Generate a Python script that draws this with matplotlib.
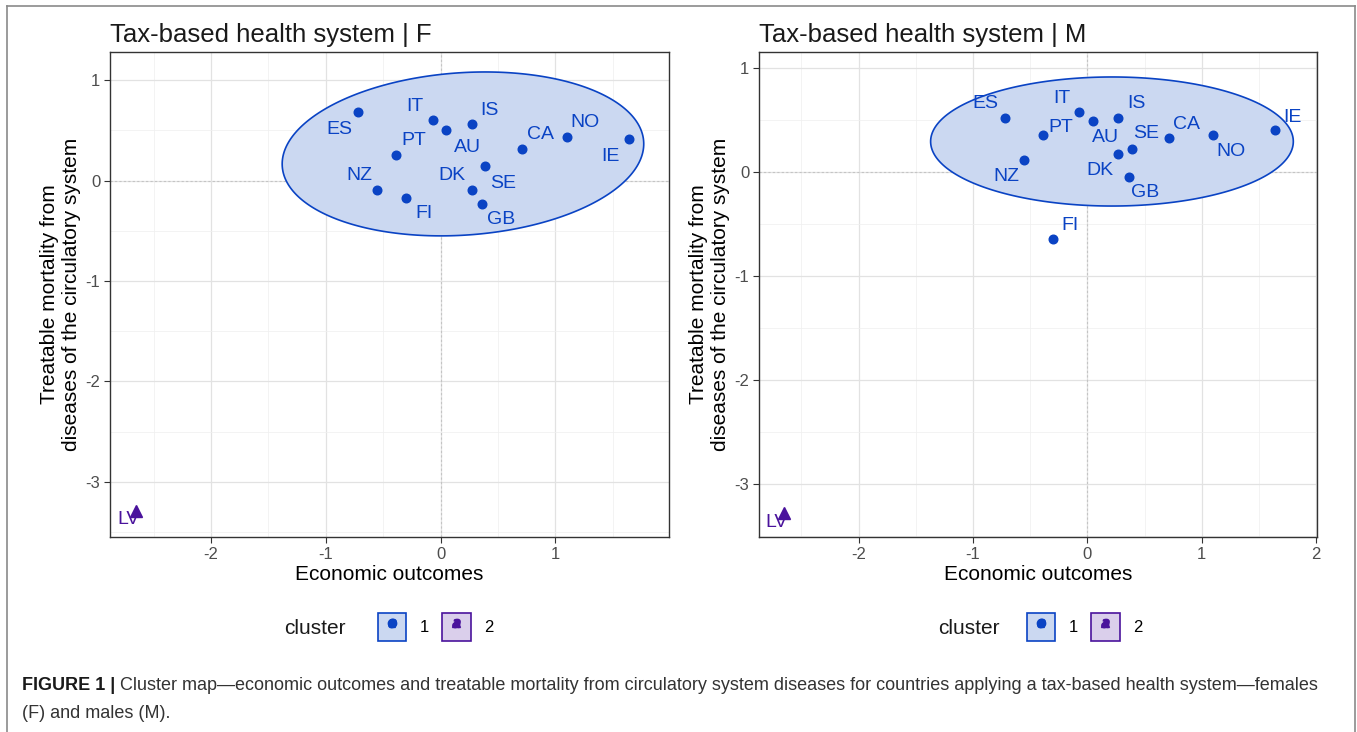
import numpy as np
import matplotlib.pyplot as plt
from matplotlib.patches import Patch
from matplotlib.lines import Line2D
from matplotlib.legend_handler import HandlerTuple
from matplotlib.ticker import MultipleLocator

plt.rcParams['font.family'] = ['Liberation Sans', 'DejaVu Sans']
plt.rcParams['axes.unicode_minus'] = False

countries = ['ES', 'IT', 'AU', 'IS', 'PT', 'CA', 'NO', 'IE', 'SE', 'NZ', 'FI', 'DK', 'GB', 'LV']
cluster = [1, 1, 1, 1, 1, 1, 1, 1, 1, 1, 1, 1, 1, 2]
econ = [-0.72, -0.07, 0.05, 0.27, -0.39, 0.71, 1.10, 1.64, 0.39, -0.55, -0.30, 0.27, 0.36, -2.65]
mort_f = [0.68, 0.60, 0.50, 0.56, 0.25, 0.31, 0.43, 0.41, 0.14, -0.09, -0.17, -0.09, -0.23, -3.29]
mort_m = [0.52, 0.57, 0.49, 0.52, 0.35, 0.32, 0.35, 0.40, 0.22, 0.115, -0.65, 0.17, -0.05, -3.28]

# cluster 1 confidence ellipses: centre, half axes and a small tilt term
ellipse_f = dict(cx=0.195, cy=0.265, a=1.575, b=0.81, c=0.10)
ellipse_m = dict(cx=0.215, cy=0.29, a=1.585, b=0.62, c=0.0)

# label offsets in pixels (dx right, dy down)
offs_f = {'ES': (-19, 17), 'IT': (-18, -14), 'AU': (21, 17), 'IS': (18, -14),
          'PT': (18, -15), 'CA': (18, -15), 'NO': (18, -15), 'IE': (-18, 17),
          'SE': (18, 17), 'NZ': (-18, -14), 'FI': (18, 16), 'DK': (-20, -14),
          'GB': (19, 16), 'LV': (-8, 9)}
offs_m = {'ES': (-20, -14), 'IT': (-17, -14), 'AU': (12, 17), 'IS': (18, -14),
          'PT': (18, -8), 'CA': (18, -14), 'NO': (18, 16), 'IE': (17, -13),
          'SE': (14, -15), 'NZ': (-18, 17), 'FI': (17, -14), 'DK': (-18, 17),
          'GB': (17, 16), 'LV': (-8, 9)}

col = {1: '#0a43c4', 2: '#4a139c'}
fill = {1: '#cbd8f1', 2: '#dacfeb'}
marker = {1: 'o', 2: '^'}

fig = plt.figure(figsize=(13.57, 7.32), dpi=100)
ax_f = fig.add_axes([110 / 1357, 1 - 537 / 732, 559 / 1357, 485 / 732])
ax_m = fig.add_axes([759 / 1357, 1 - 537 / 732, 558 / 1357, 485 / 732])


def draw_panel(ax, mort, ell, offs, title, xlim, ylim):
    ax.set_xlim(*xlim)
    ax.set_ylim(*ylim)
    ax.xaxis.set_major_locator(MultipleLocator(1))
    ax.yaxis.set_major_locator(MultipleLocator(1))
    ax.xaxis.set_minor_locator(MultipleLocator(0.5))
    ax.yaxis.set_minor_locator(MultipleLocator(0.5))
    ax.grid(which='major', color='#e2e2e2', lw=0.9, zorder=0)
    ax.grid(which='minor', color='#efefef', lw=0.5, zorder=0)
    ax.set_axisbelow(True)
    ax.tick_params(which='minor', length=0)
    ax.tick_params(which='major', length=4, width=0.8, color='#333333',
                   labelcolor='#4d4d4d', labelsize=12, pad=3)
    for s in ax.spines.values():
        s.set_color('#333333')
        s.set_linewidth(1.0)

    ax.axhline(0, color='#c4c4c4', lw=0.8, ls=(0, (2, 2)), zorder=1)
    ax.axvline(0, color='#c4c4c4', lw=0.8, ls=(0, (2, 2)), zorder=1)

    t = np.linspace(0, 2 * np.pi, 300)
    ex = ell['cx'] + ell['a'] * np.cos(t)
    ey = ell['cy'] + ell['b'] * np.sin(t) + ell['c'] * np.cos(t)
    ax.fill(ex, ey, facecolor=fill[1], edgecolor=col[1], lw=1.2, zorder=2)

    for name, x, y, k in zip(countries, econ, mort, cluster):
        ax.plot(x, y, marker=marker[k], color=col[k], ms=6.2 if k == 1 else 8.5,
                ls='', zorder=3)
        dx, dy = offs[name]
        ax.annotate(name, (x, y), xytext=(dx, -dy), textcoords='offset pixels',
                    ha='center', va='center', color=col[k], fontsize=14, zorder=4)

    ax.set_title(title, loc='left', fontsize=18.5, color='#1a1a1a', pad=7)
    ax.set_xlabel('Economic outcomes', fontsize=15, va='center')
    ax.xaxis.set_label_coords(0.5, -0.078)
    ax.set_ylabel('Treatable mortality from\ndiseases of the circulatory system',
                  fontsize=15, va='center', linespacing=1.2)
    ax.yaxis.set_label_coords(-0.089, 0.5)


draw_panel(ax_f, mort_f, ellipse_f, offs_f, 'Tax-based health system | F',
           (-2.88, 1.99), (-3.55, 1.28))
draw_panel(ax_m, mort_m, ellipse_m, offs_m, 'Tax-based health system | M',
           (-2.87, 2.007), (-3.51, 1.15))

# legends under each panel
handles = []
for k in (1, 2):
    handles.append((Patch(facecolor=fill[k], edgecolor=col[k], lw=1.2),
                    Line2D([], [], marker=marker[k], color=col[k], ls='', ms=6),
                    Line2D([], [], marker='$a$', color=col[k], ls='', ms=6)))
for left_px, text_px in ((378, 315), (1027, 969)):
    fig.text(text_px / 1357, 1 - 628 / 732, 'cluster', fontsize=15,
             ha='center', va='center', color='#1a1a1a')
    fig.legend(handles, ['1', '2'], handler_map={tuple: HandlerTuple(ndivide=1, pad=0)},
               loc='center left', bbox_to_anchor=(left_px / 1357, 1 - 627 / 732),
               ncol=2, frameon=False, fontsize=12, handlelength=1.7,
               handleheight=2.15, handletextpad=0.8, columnspacing=0.8,
               borderaxespad=0, borderpad=0)

# surrounding frame
for xs, ys in (([7, 7], [732, 6]), ([7, 1355], [6, 6]), ([1355, 1355], [6, 732])):
    fig.add_artist(Line2D([x / 1357 for x in xs], [1 - y / 732 for y in ys],
                          color='#8a8a8a', lw=1.2))

# caption
cap_font = ['Liberation Sans Narrow', 'Liberation Sans', 'DejaVu Sans']
bold = fig.text(22 / 1357, 1 - 686 / 732, 'FIGURE 1 |', fontsize=13, weight='bold',
                family=cap_font, va='center', color='#1a1a1a')
fig.canvas.draw()
bb = bold.get_window_extent()
fig.text((bb.x1 + 5) / 1357, 1 - 686 / 732,
         'Cluster map\u2014economic outcomes and treatable mortality from circulatory '
         'system diseases for countries applying a tax-based health system\u2014females',
         fontsize=13, family=cap_font, va='center', color='#333333')
fig.text(22 / 1357, 1 - 714 / 732, '(F) and males (M).', fontsize=13,
         family=cap_font, va='center', color='#333333')

fig.savefig('out.png', dpi=100)
